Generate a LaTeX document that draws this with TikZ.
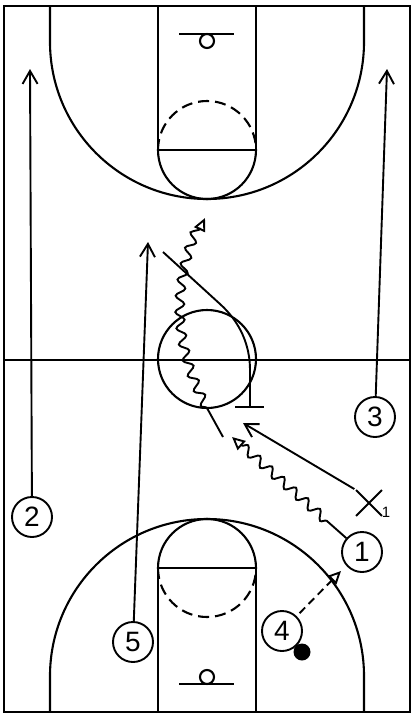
\documentclass[tikz,border=0pt]{standalone}
\usepackage{fontspec}
\setmainfont{Liberation Sans}
\usetikzlibrary{arrows.meta,decorations.pathmorphing,shapes.misc}
\begin{document}
\begin{tikzpicture}[x=1pt,y=-1pt,
  court/.style={line width=2.1pt},
  dashedline/.style={line width=2.1pt,dash pattern=on 11pt off 6pt},
  player/.style={circle,draw,line width=1.9pt,minimum size=40pt,inner sep=0pt,font=\fontsize{28}{28}\selectfont},
  move/.style={line width=1.9pt,-{Straight Barb[length=13pt,width=15pt]}},
  dribble/.style={line width=1.9pt,-{Triangle[open,length=13pt,width=12pt]},decorate,decoration={snake,amplitude=4.5pt,segment length=16pt,post length=11pt}},
  pass/.style={line width=1.9pt,dash pattern=on 8pt off 5pt,-{Triangle[open,length=13pt,width=12pt]}},
  screenline/.style={line width=1.9pt},
  defender/.style={draw,cross out,minimum size=24pt,inner sep=0pt,line width=1.9pt},
  ball/.style={circle,fill=black,minimum size=17pt,inner sep=0pt},
]
\useasboundingbox (0,0) rectangle (416,718);
% court outline
\draw[court] (4,6) rectangle (410,712);
\draw[court] (4,360) -- (410,360);
\draw[court] (207,359) circle[radius=49];
% top half
\draw[court] (50,6) -- (50,42) arc[start angle=180,end angle=0,radius=157] -- (364,6);
\draw[court] (158,6) rectangle (256,150);
\draw[court] (158,150) arc[start angle=180,end angle=0,radius=49];
\draw[dashedline] (158,150) arc[start angle=180,end angle=360,radius=49];
\draw[court] (179,34) -- (234,34);
\draw[court] (207,41) circle[radius=7];
% bottom half
\draw[court] (50,712) -- (50,676) arc[start angle=180,end angle=360,radius=157] -- (364,712);
\draw[court] (158,568) rectangle (256,712);
\draw[court] (158,568) arc[start angle=180,end angle=360,radius=49];
\draw[dashedline] (158,568) arc[start angle=180,end angle=0,radius=49];
\draw[court] (179,684) -- (234,684);
\draw[court] (207,677) circle[radius=7];

% players
\node[player,fill=white] (p1) at (362,552) {1};
\node[player,fill=white] (p2) at (32,517) {2};
\node[player,fill=white] (p3) at (375,417) {3};
\node[player,fill=white] (p4) at (282,631) {4};
\node[player,fill=white] (p5) at (133,642) {5};
\node[ball] (b) at (302,652) {};
\node[defender] (x1) at (369,503) {};
\node[font=\fontsize{15}{15}\selectfont,inner sep=0pt] (x1s) at (386,512) {1};

% coordinates
\coordinate (e2) at (30,69);
\coordinate (e3) at (387,69);
\coordinate (e5) at (148,242);
\coordinate (ex) at (243,423);
\coordinate (d1) at (232,437);
\coordinate (s2a) at (223,437);
\coordinate (s2b) at (207,408);
\coordinate (d2) at (205,218);
\coordinate (sc1) at (163,252);
\coordinate (sc2) at (250,407);
\coordinate (scl) at (235,407);
\coordinate (scr) at (264,407);
\coordinate (pa) at (341,571);

% moves
\draw[move] (p2) -- (e2);
\draw[move] (p3) -- (e3);
\draw[move] (p5) -- (e5);
\draw[move,shorten <=2pt] (x1.north west) -- (ex);
% dribbles
\draw[dribble,decoration={pre length=26pt}] (p1) -- (d1);
\draw[dribble,decoration={pre length=33pt}] (s2a) -- (s2b) .. controls (172,340) and (175,280) .. (d2);
% screen
\draw[screenline] (sc1) -- (220,304) .. controls (240,322) and (250,345) .. (250,370) -- (sc2);
\draw[screenline] (scl) -- (scr);
% pass
\draw[pass,shorten <=4pt] (p4) -- (pa);
\end{tikzpicture}
\end{document}
